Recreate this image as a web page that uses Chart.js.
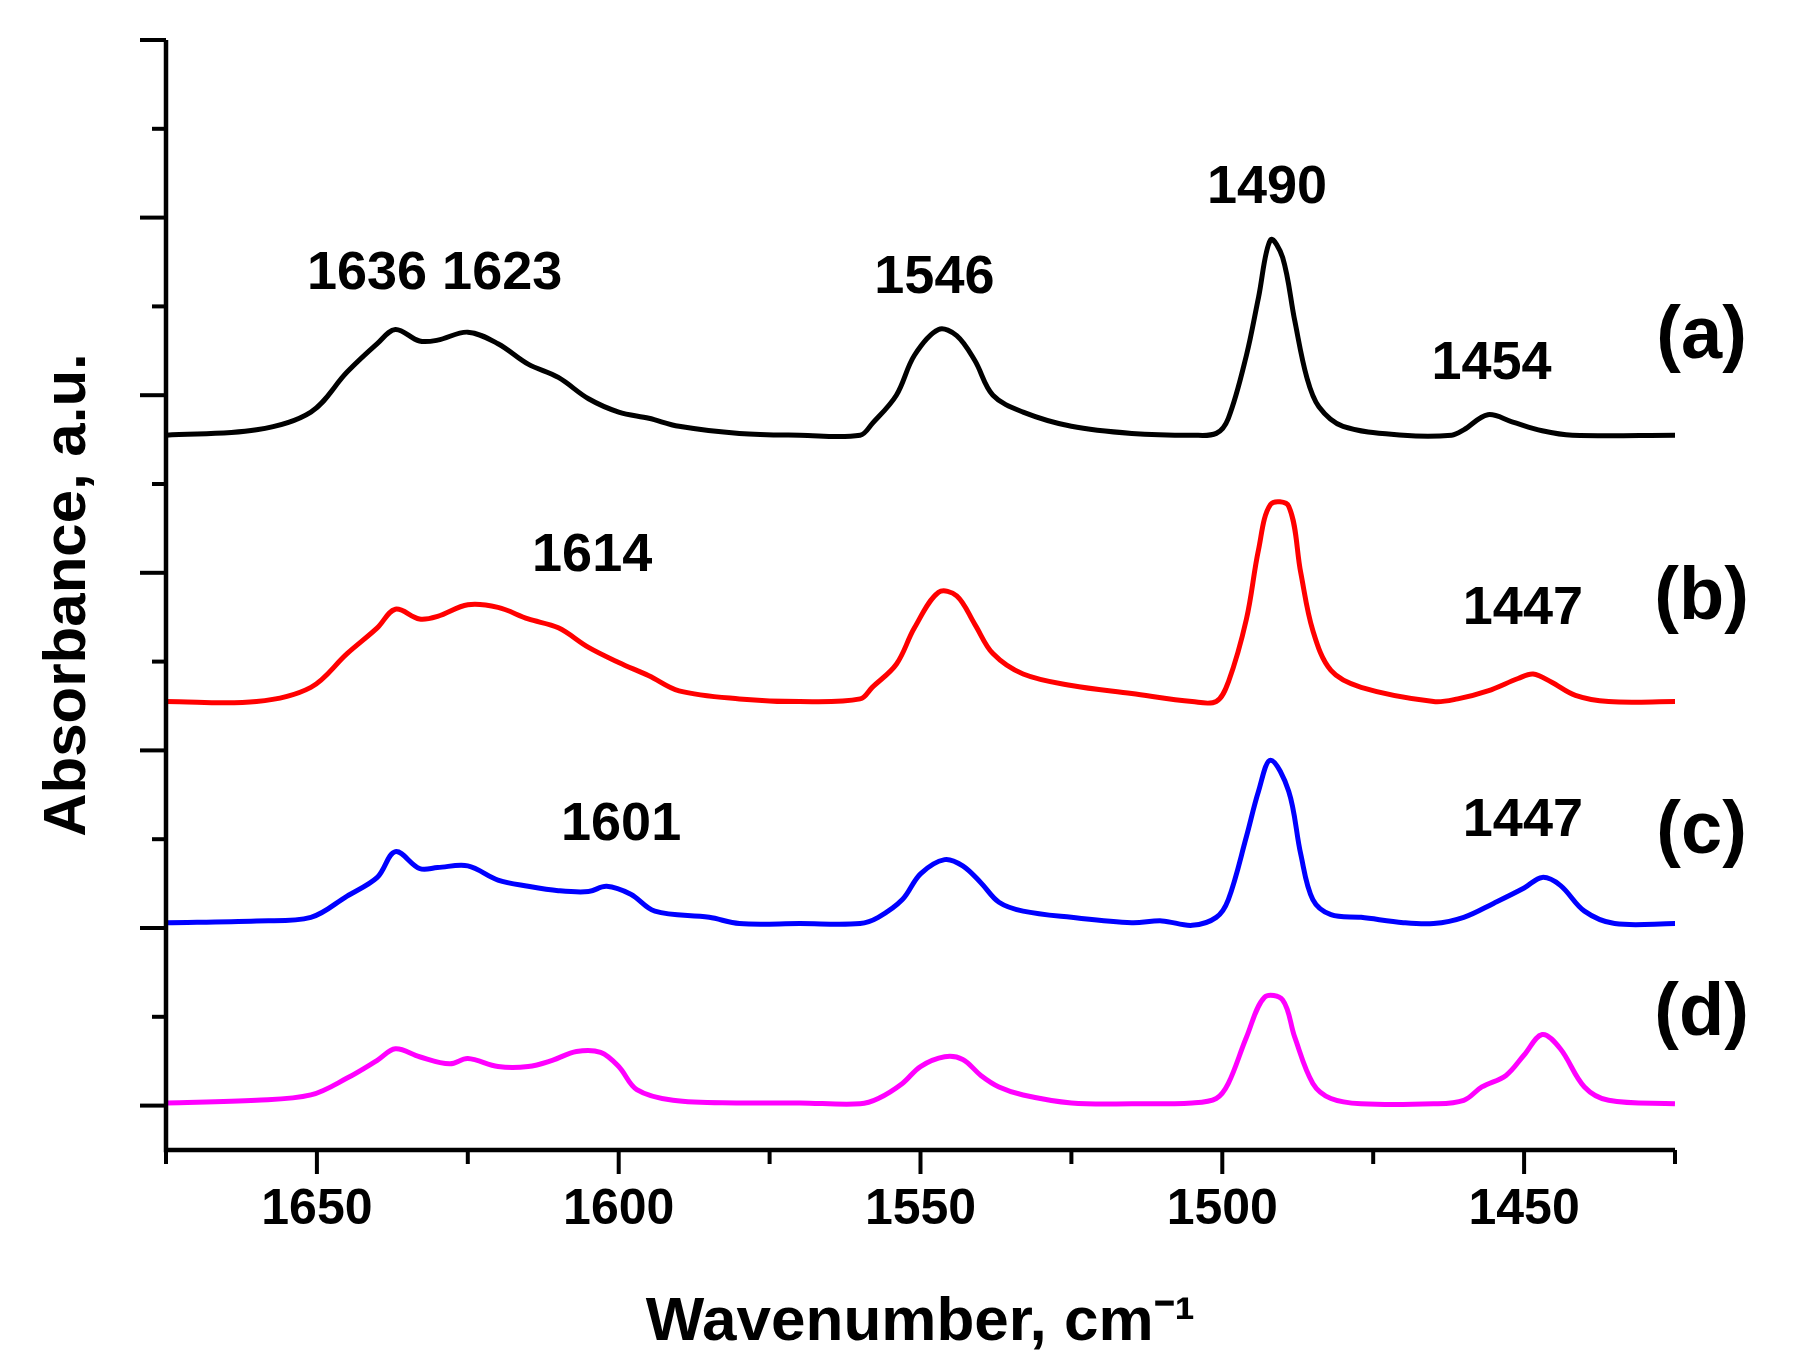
<!DOCTYPE html>
<html><head><meta charset="utf-8">
<script src="https://cdn.jsdelivr.net/npm/chart.js@4"></script>
<style>html,body{margin:0;padding:0;background:#fff}#w{width:1793px;height:1364px}</style>
</head><body><div id="w"><canvas id="c"></canvas></div>
<script>
const wnA = [1675,1660,1651,1645,1640,1637,1633,1630,1625,1620,1615,1610,1605,1600,1595,1590,1580,1570,1560,1558,1554,1551,1547,1544,1541,1538,1533,1525,1515,1505,1501,1499,1496,1494,1492,1490,1488,1486,1484,1480,1470,1462,1460,1456,1452,1447,1442,1425];
const valA = [8.05,8.11,8.31,8.76,9.08,9.24,9.11,9.12,9.21,9.08,8.85,8.70,8.46,8.31,8.24,8.15,8.07,8.05,8.05,8.18,8.50,8.95,9.24,9.17,8.89,8.50,8.31,8.15,8.07,8.05,8.07,8.24,8.95,9.60,10.25,10.05,9.34,8.70,8.37,8.15,8.05,8.05,8.11,8.28,8.20,8.10,8.05,8.05];
const wnB = [1675,1660,1651,1645,1640,1637,1633,1630,1625,1620,1615,1610,1605,1600,1595,1590,1580,1570,1560,1558,1554,1551,1547,1544,1541,1538,1533,1525,1515,1505,1501,1499,1496,1494,1492,1489,1487,1485,1482,1477,1465,1461,1456,1451,1448.5,1445.5,1441.5,1436,1425];
const valB = [5.05,5.05,5.21,5.59,5.88,6.09,5.98,6.01,6.14,6.11,5.98,5.88,5.66,5.49,5.34,5.17,5.08,5.05,5.08,5.21,5.47,5.88,6.28,6.24,5.92,5.59,5.36,5.23,5.14,5.05,5.05,5.27,5.98,6.76,7.27,7.25,6.50,5.85,5.40,5.21,5.05,5.08,5.17,5.31,5.36,5.27,5.12,5.05,5.05];
const wnC = [1675,1660,1651,1645,1640,1637,1633,1630,1625,1620,1615,1610,1605,1602,1598,1594,1585,1580,1570,1560,1557,1553,1550,1546,1543,1540,1537,1533,1525,1515,1510,1505,1501,1499,1496,1494,1492,1489,1487,1485,1482,1477,1470,1465,1460,1455,1450,1447,1444,1440,1435,1425];
const valC = [2.56,2.58,2.62,2.86,3.07,3.36,3.17,3.18,3.20,3.04,2.97,2.92,2.91,2.97,2.88,2.69,2.62,2.55,2.55,2.55,2.62,2.82,3.11,3.27,3.20,3.01,2.79,2.69,2.62,2.56,2.58,2.53,2.62,2.82,3.53,4.04,4.39,4.04,3.33,2.82,2.65,2.62,2.56,2.55,2.62,2.78,2.95,3.07,2.98,2.69,2.55,2.55];
const wnD = [1675,1660,1651,1645,1640,1637,1633,1628,1625,1620,1615,1611,1607,1603,1600,1597,1591,1580,1570,1560,1557,1553,1550,1546,1543,1540,1537,1533,1525,1515,1505,1501,1499,1496,1493,1490,1488,1485,1482,1477,1465,1460,1457,1453,1450,1447,1444,1440,1436,1425];
const valD = [0.53,0.56,0.62,0.81,1.01,1.14,1.05,0.97,1.03,0.94,0.94,1.01,1.11,1.10,0.94,0.68,0.56,0.53,0.53,0.52,0.58,0.75,0.94,1.05,1.02,0.84,0.71,0.62,0.53,0.52,0.53,0.58,0.75,1.27,1.72,1.69,1.27,0.75,0.58,0.52,0.52,0.56,0.71,0.84,1.07,1.30,1.14,0.71,0.56,0.52];
const colors = ['#000000','#ff0000','#0000ff','#ff00ff'];
const peakLabels = [
  {t:'1636 1623', x:1630.5, y:9.86},
  {t:'1546', x:1547.7, y:9.82},
  {t:'1490', x:1492.6, y:10.83},
  {t:'1454', x:1455.4, y:8.85},
  {t:'1614', x:1604.4, y:6.69},
  {t:'1447', x:1450.2, y:6.09},
  {t:'1601', x:1599.6, y:3.66},
  {t:'1447', x:1450.2, y:3.70}
];
const seriesLabels = [
  {t:'(a)', x:1420.6, y:9.15},
  {t:'(b)', x:1420.6, y:6.21},
  {t:'(c)', x:1420.6, y:3.57},
  {t:'(d)', x:1420.6, y:1.52}
];
const xMajor = [1650,1600,1550,1500,1450];
const xMinor = [1675,1625,1575,1525,1475,1425];
const yTicks = [0.5,1.5,2.5,3.5,4.5,5.5,6.5,7.5,8.5,9.5,10.5,11.5,12.5];

const mk = (wn, v) => wn.map((x,i)=>({x, y:v[i]}));
const sets = [[wnA,valA],[wnB,valB],[wnC,valC],[wnD,valD]];
const FF = '"Liberation Sans Narrow", Arial, "Liberation Sans", sans-serif';

const deco = {
  id:'deco',
  afterDraw(ch){
    const c = ch.ctx, xs = ch.scales.x, ys = ch.scales.y, a = ch.chartArea;
    c.save();
    c.strokeStyle='#000'; c.lineWidth=4.5; c.lineCap='butt';
    c.beginPath();
    c.moveTo(a.left, a.top); c.lineTo(a.left, a.bottom); c.lineTo(a.right, a.bottom);
    c.stroke();
    c.lineWidth=4;
    xMajor.forEach(v=>{const p=xs.getPixelForValue(v);c.beginPath();c.moveTo(p,a.bottom);c.lineTo(p,a.bottom+24);c.stroke();});
    xMinor.forEach(v=>{const p=xs.getPixelForValue(v);c.beginPath();c.moveTo(p,a.bottom);c.lineTo(p,a.bottom+14);c.stroke();});
    yTicks.forEach((v,i)=>{const p=ys.getPixelForValue(v);c.beginPath();c.moveTo(a.left,p);c.lineTo(a.left-(i%2===0?26:14),p);c.stroke();});
    c.fillStyle='#000'; c.textAlign='center'; c.textBaseline='middle';
    c.font='bold 54px Arial, "Liberation Sans", sans-serif';
    peakLabels.forEach(l=>c.fillText(l.t, xs.getPixelForValue(l.x), ys.getPixelForValue(l.y)));
    c.font='bold 74px Arial, "Liberation Sans", sans-serif';
    seriesLabels.forEach(l=>c.fillText(l.t, xs.getPixelForValue(l.x), ys.getPixelForValue(l.y)));
    c.restore();
  }
};

new Chart(document.getElementById('c'), {
  type:'line',
  data:{datasets: sets.map((s,i)=>({data:mk(s[0],s[1]), borderColor:colors[i], borderWidth:5, pointRadius:0, tension:0.35, fill:false}))},
  options:{
    responsive:true, maintainAspectRatio:false, animation:false,
    layout:{padding:{top:40,right:118,left:28,bottom:0}},
    plugins:{legend:{display:false}, tooltip:{enabled:false}},
    scales:{
      x:{type:'linear', reverse:true, min:1425, max:1675,
        afterBuildTicks(s){s.ticks=xMajor.map(v=>({value:v}));},
        afterFit(s){s.height=214;},
        border:{display:false}, grid:{display:false},
        ticks:{color:'#000', padding:22, callback:v=>String(v), font:{size:50, weight:'bold', family:FF}},
        title:{display:true, text:'Wavenumber, cm\u207B\u00B9', color:'#000', padding:{top:0}, font:{size:62, weight:'bold', family:FF}}
      },
      y:{min:0, max:12.5,
        afterFit(s){s.width=138;},
        border:{display:false}, grid:{display:false},
        ticks:{display:false},
        title:{display:true, text:'Absorbance, a.u.', color:'#000', padding:{bottom:40}, font:{size:60, weight:'bold', family:FF}}
      }
    }
  },
  plugins:[deco]
});
</script></body></html>
